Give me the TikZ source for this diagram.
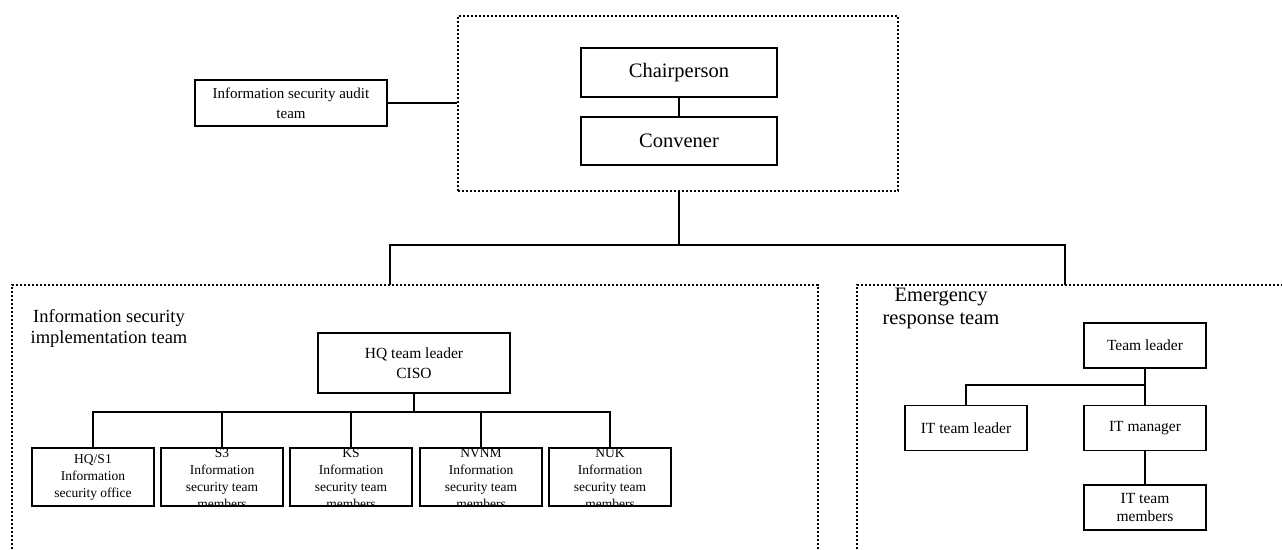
\documentclass[tikz,border=0pt]{standalone}
\usepackage{fontspec}
\setmainfont{Liberation Serif}
\begin{document}
\begin{tikzpicture}[x=1pt,y=-1pt,
  box/.style={draw, line width=1.7pt, inner sep=1pt, align=center},
  dbox/.style={draw, line width=1.2pt, dash pattern=on 2.4pt off 1.6pt},
  conn/.style={draw, line width=1.7pt},
  small/.style={font=\fontsize{13.5}{17}\selectfont},
  mid/.style={font=\fontsize{15.5}{19}\selectfont},
  big/.style={font=\fontsize{20.5}{24}\selectfont},
  clipped/.style={path picture={\node[small, align=center, inner sep=0pt]
      at ([yshift=-2pt]path picture bounding box.center) {#1};}},
  memberbox/.style={box, minimum width=122, minimum height=58}]
\useasboundingbox (0,0) rectangle (1282,549);
% top group
\node[dbox, minimum width=440, minimum height=175] (topg) at (678,103.5) {};
\node[box, big, minimum width=196, minimum height=49] (chair) at (679,72.5) {Chairperson};
\node[box, big, minimum width=196, minimum height=48] (conv) at (679,141) {Convener};
\draw[conn] (chair) -- (conv);
\node[box, font=\fontsize{15}{20}\selectfont, minimum width=192, minimum height=46] (audit) at (291,103) {Information security audit\\team};
\draw[conn] (audit.east) -- (audit.east -| topg.west);
% lower groups
\coordinate (impl) at (390,285);
\coordinate (emerg) at (1065,285);
\coordinate (bus) at (679,245);
\draw[conn] (topg.south -| bus) -- (bus);
\draw[conn] (impl) |- (bus) -| (emerg);
\draw[dbox] (12,549) -- (12,285) -- (818,285) -- (818,549);
\draw[dbox] (857,549) -- (857,285) -- (1282,285);
\node[font=\fontsize{18.5}{21}\selectfont, align=center] (impltitle) at (109,328) {Information security\\implementation team};
\node[font=\fontsize{20.5}{23}\selectfont, align=center] (emergtitle) at (941,308) {Emergency\\response team};
% implementation team
\node[box, font=\fontsize{15.5}{20}\selectfont, minimum width=192, minimum height=60] (ciso) at (414,363) {HQ team leader\\CISO};
\node[memberbox, small] (s1) at (93,477) {HQ/S1\\Information\\security office};
\node[memberbox, clipped={S3\\Information\\security team\\members}] (s3) at (222,477) {};
\node[memberbox, clipped={KS\\Information\\security team\\members}] (ks) at (351,477) {};
\node[memberbox, clipped={NVNM\\Information\\security team\\members}] (nvnm) at (481,477) {};
\node[memberbox, clipped={NUK\\Information\\security team\\members}] (nuk) at (610,477) {};
\coordinate (ibus) at (414,412);
\draw[conn] (ciso.south) -- (ibus);
\draw[conn] (s1.north) |- (ibus) -| (nuk.north);
\foreach \n in {s3,ks,nvnm} \draw[conn] (\n.north) -- (\n.north |- ibus);
% emergency team
\node[box, mid, minimum width=122, minimum height=45] (tl) at (1145,345.5) {Team leader};
\node[box, mid, minimum width=122, minimum height=45] (itl) at (966,428) {IT team leader};
\node[box, mid, minimum width=122, minimum height=45] (itm) at (1145,428) {IT manager};
\node[box, font=\fontsize{15.5}{18}\selectfont, minimum width=122, minimum height=45] (itt) at (1145,507.5) {IT team\\members};
\coordinate (ebus) at (1145,385);
\draw[conn] (tl.south) -- (itm.north);
\draw[conn] (itl.north) |- (ebus);
\draw[conn] (itm) -- (itt);
\end{tikzpicture}
\end{document}
